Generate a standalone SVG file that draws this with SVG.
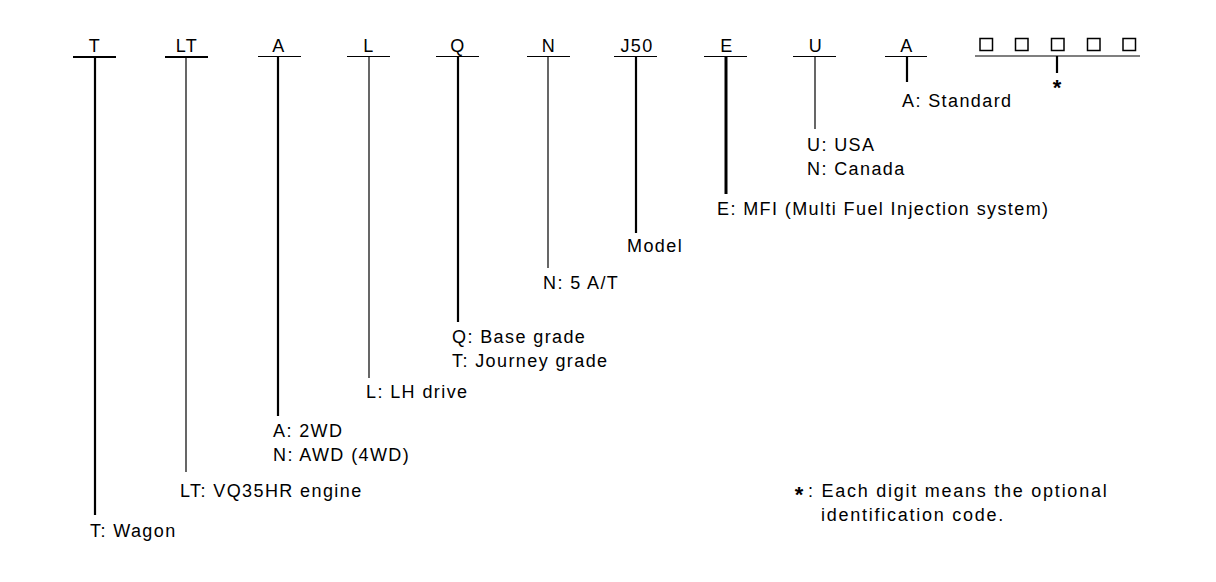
<svg xmlns="http://www.w3.org/2000/svg" width="1216" height="582" viewBox="0 0 1216 582">
<style>
text{font-family:"Liberation Sans",Arial,sans-serif;font-size:18px;fill:#000;letter-spacing:1.4px}
.top{text-anchor:middle}
.leg{letter-spacing:1.75px}
.u1{stroke:#000;stroke-width:1.2;fill:none}
.u2{stroke:#000;stroke-width:2.2;fill:none}
.u3{stroke:#000;stroke-width:3;fill:none}
.box{stroke:#000;stroke-width:1.5;fill:#fff}
.ast{font-weight:bold;font-size:22px;text-anchor:middle;letter-spacing:0}
</style>
<rect width="1216" height="582" fill="#fff"/>
<g id="connectors">
<line class="u2" x1="73" y1="57" x2="116" y2="57"/>
<line class="u2" x1="95" y1="57" x2="95" y2="515"/>
<line class="u2" x1="165" y1="57" x2="208" y2="57"/>
<line class="u1" x1="186" y1="57" x2="186" y2="472"/>
<line class="u1" x1="258" y1="56.5" x2="301" y2="56.5"/>
<line class="u2" x1="278" y1="57" x2="278" y2="416"/>
<line class="u1" x1="347" y1="56.5" x2="390" y2="56.5"/>
<line class="u1" x1="369" y1="57" x2="369" y2="378"/>
<line class="u1" x1="436" y1="56.5" x2="479" y2="56.5"/>
<line class="u2" x1="458" y1="57" x2="458" y2="322"/>
<line class="u1" x1="527" y1="56.5" x2="570" y2="56.5"/>
<line class="u1" x1="548" y1="57" x2="548" y2="268"/>
<line class="u1" x1="614" y1="56.5" x2="657" y2="56.5"/>
<line class="u2" x1="636" y1="57" x2="636" y2="233"/>
<line class="u1" x1="704" y1="56.5" x2="747" y2="56.5"/>
<line class="u3" x1="726" y1="57" x2="726" y2="194"/>
<line class="u1" x1="793" y1="56.5" x2="836" y2="56.5"/>
<line class="u1" x1="815" y1="57" x2="815" y2="129"/>
<line class="u1" x1="885" y1="56.5" x2="927" y2="56.5"/>
<line class="u2" x1="907" y1="57" x2="907" y2="82"/>
<line class="u1" x1="975" y1="56" x2="1140" y2="56"/>
<line class="u2" x1="1057" y1="56" x2="1057" y2="73"/>
</g>
<g id="n-T"><text class="top" x="95" y="52">T</text><text x="90" y="537">T: Wagon</text></g>
<g id="n-LT"><text class="top" x="187" y="52">LT</text><text x="180" y="497">LT: VQ35HR engine</text></g>
<g id="n-A"><text class="top" x="279" y="52">A</text><text x="273" y="437">A: 2WD</text><text x="273" y="461">N: AWD (4WD)</text></g>
<g id="n-L"><text class="top" x="369" y="52">L</text><text x="366" y="398">L: LH drive</text></g>
<g id="n-Q"><text class="top" x="458" y="52">Q</text><text x="452" y="343">Q: Base grade</text><text x="452" y="367">T: Journey grade</text></g>
<g id="n-N"><text class="top" x="549" y="52">N</text><text x="543" y="289">N: 5 A/T</text></g>
<g id="n-J50"><text class="top" x="637" y="52">J50</text><text x="627" y="252">Model</text></g>
<g id="n-E"><text class="top" x="727" y="52">E</text><text x="717" y="215">E: MFI (Multi Fuel Injection system)</text></g>
<g id="n-U"><text class="top" x="816" y="52">U</text><text x="807" y="151">U: USA</text><text x="807" y="175">N: Canada</text></g>
<g id="n-A2"><text class="top" x="907" y="52">A</text><text x="902" y="107">A: Standard</text></g>
<g id="n-opt">
<rect class="box" x="980" y="38.5" width="12.5" height="12"/>
<rect class="box" x="1015.5" y="38.5" width="12.5" height="12"/>
<rect class="box" x="1051.5" y="38.5" width="12.5" height="12"/>
<rect class="box" x="1087.5" y="38.5" width="12.5" height="12"/>
<rect class="box" x="1123" y="38.5" width="12.5" height="12"/>
<text class="ast" x="1057" y="95">*</text>
</g>
<g id="n-legend">
<text class="ast" x="799" y="502">*</text>
<text class="leg" x="808" y="497">: Each digit means the optional</text>
<text class="leg" x="821" y="521">identification code.</text>
</g>
</svg>
